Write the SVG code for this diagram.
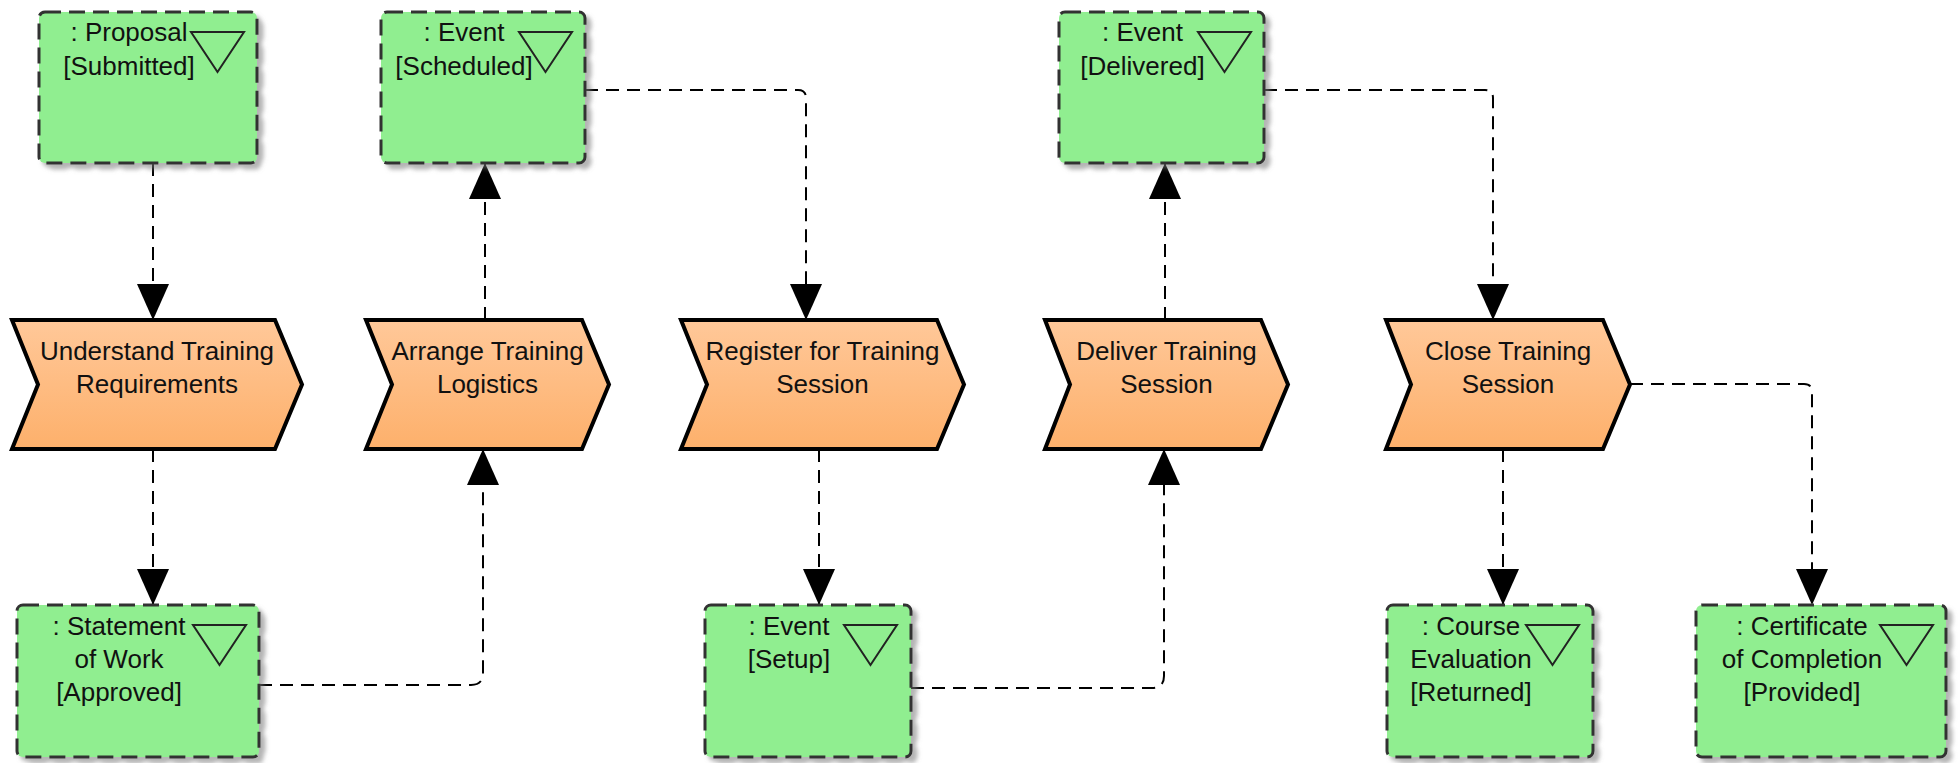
<svg xmlns="http://www.w3.org/2000/svg" width="1959" height="763" viewBox="0 0 1959 763">
<style>
.obj{fill:#90EE90;stroke:#333;stroke-width:3;stroke-dasharray:16 8;filter:url(#sh)}
.tri{fill:none;stroke:#222;stroke-width:2}
.act{fill:url(#og);stroke:#000;stroke-width:4;stroke-linejoin:miter}
.t{font-family:"Liberation Sans",Arial,sans-serif;font-size:26px;fill:#111;text-anchor:middle}
.c{fill:none;stroke:#000;stroke-width:2;stroke-dasharray:13 8;marker-end:url(#ah)}
</style>
<defs>
<linearGradient id="og" x1="0" y1="0" x2="0" y2="1">
<stop offset="0" stop-color="#FFC899"/>
<stop offset="1" stop-color="#FDB06B"/>
</linearGradient>
<filter id="sh" x="-10%" y="-10%" width="130%" height="130%">
<feDropShadow dx="5" dy="5" stdDeviation="2" flood-color="#777" flood-opacity="0.55"/>
</filter>
<marker id="ah" markerUnits="userSpaceOnUse" markerWidth="36" markerHeight="32" refX="36" refY="16" orient="auto" viewBox="0 0 36 32">
<path d="M0,0 L36,16 L0,32 Z" fill="#000"/>
</marker>
</defs>

<g id="connectors">
<path class="c" d="M153,163 V320"/>
<path class="c" d="M153,449 V605"/>
<path class="c" d="M259,685 H471 Q483,685 483,673 V449"/>
<path class="c" d="M485,320 V163"/>
<path class="c" d="M585,90 H798 Q806,90 806,98 V320"/>
<path class="c" d="M819,449 V605"/>
<path class="c" d="M911,688 H1152 Q1164,688 1164,676 V449"/>
<path class="c" d="M1165,320 V163"/>
<path class="c" d="M1264,90 H1485 Q1493,90 1493,98 V320"/>
<path class="c" d="M1503,449 V605"/>
<path class="c" d="M1630,384 H1804 Q1812,384 1812,392 V605"/>
</g>

<g id="proposal">
<rect class="obj" x="39" y="12" width="218" height="151" rx="6"/>
<polygon class="tri" points="191,32 244,32 217.5,72"/>
<text class="t" x="129" y="41">: Proposal</text>
<text class="t" x="129" y="75">[Submitted]</text>
</g>
<g id="event-scheduled">
<rect class="obj" x="381" y="12" width="204" height="151" rx="6"/>
<polygon class="tri" points="519,32 572,32 545.5,72"/>
<text class="t" x="464" y="41">: Event</text>
<text class="t" x="464" y="75">[Scheduled]</text>
</g>
<g id="event-delivered">
<rect class="obj" x="1059" y="12" width="205" height="151" rx="6"/>
<polygon class="tri" points="1198,32 1251,32 1224.5,72"/>
<text class="t" x="1142.5" y="41">: Event</text>
<text class="t" x="1142.5" y="75">[Delivered]</text>
</g>

<g id="understand">
<path class="act" d="M12,320 L275,320 L302,384.5 L275,449 L12,449 L38,384.5 Z"/>
<text class="t" x="157" y="360">Understand Training</text>
<text class="t" x="157" y="393">Requirements</text>
</g>
<g id="arrange">
<path class="act" d="M366,320 L582,320 L609,384.5 L582,449 L366,449 L392,384.5 Z"/>
<text class="t" x="487.5" y="360">Arrange Training</text>
<text class="t" x="487.5" y="393">Logistics</text>
</g>
<g id="register">
<path class="act" d="M681,320 L937,320 L964,384.5 L937,449 L681,449 L707,384.5 Z"/>
<text class="t" x="822.5" y="360">Register for Training</text>
<text class="t" x="822.5" y="393">Session</text>
</g>
<g id="deliver">
<path class="act" d="M1045,320 L1261,320 L1288,384.5 L1261,449 L1045,449 L1070,384.5 Z"/>
<text class="t" x="1166.5" y="360">Deliver Training</text>
<text class="t" x="1166.5" y="393">Session</text>
</g>
<g id="close">
<path class="act" d="M1386,320 L1603,320 L1630,384.5 L1603,449 L1386,449 L1411,384.5 Z"/>
<text class="t" x="1508" y="360">Close Training</text>
<text class="t" x="1508" y="393">Session</text>
</g>

<g id="statement-of-work">
<rect class="obj" x="17" y="605" width="242" height="152" rx="6"/>
<polygon class="tri" points="193,625 246,625 219.5,665"/>
<text class="t" x="119" y="635">: Statement</text>
<text class="t" x="119" y="668">of Work</text>
<text class="t" x="119" y="701">[Approved]</text>
</g>
<g id="event-setup">
<rect class="obj" x="705" y="605" width="206" height="152" rx="6"/>
<polygon class="tri" points="844,625 897,625 870.5,665"/>
<text class="t" x="789" y="635">: Event</text>
<text class="t" x="789" y="668">[Setup]</text>
</g>
<g id="course-evaluation">
<rect class="obj" x="1387" y="605" width="206" height="152" rx="6"/>
<polygon class="tri" points="1526,625 1579,625 1552.5,665"/>
<text class="t" x="1471" y="635">: Course</text>
<text class="t" x="1471" y="668">Evaluation</text>
<text class="t" x="1471" y="701">[Returned]</text>
</g>
<g id="certificate">
<rect class="obj" x="1696" y="605" width="250" height="152" rx="6"/>
<polygon class="tri" points="1880,625 1933,625 1906.5,665"/>
<text class="t" x="1802" y="635">: Certificate</text>
<text class="t" x="1802" y="668">of Completion</text>
<text class="t" x="1802" y="701">[Provided]</text>
</g>
</svg>
